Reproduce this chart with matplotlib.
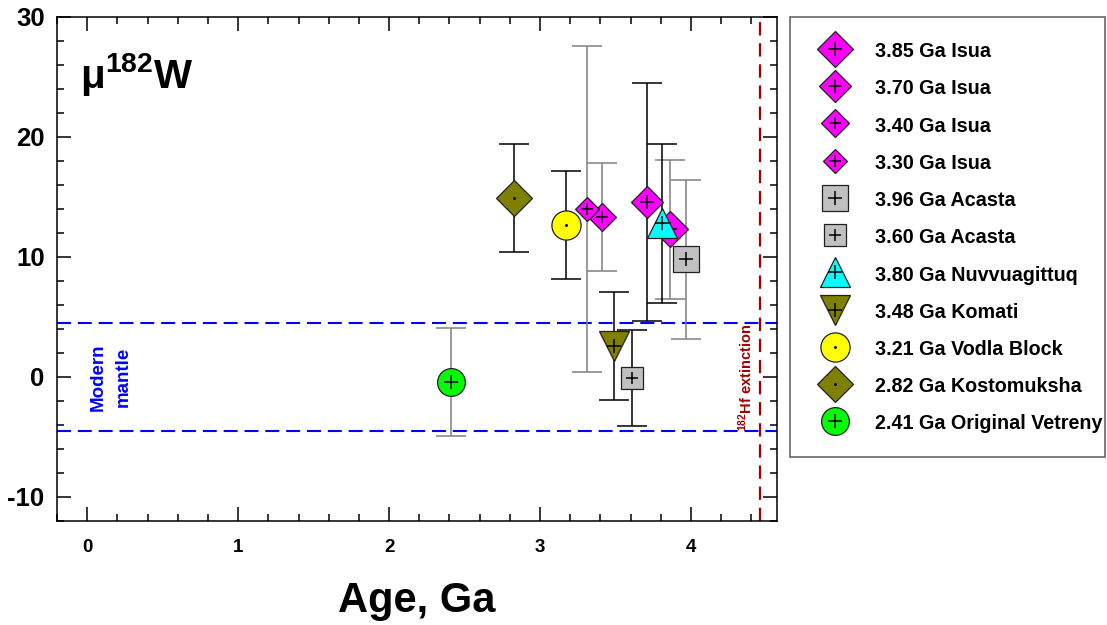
import matplotlib
matplotlib.use("Agg")
import matplotlib.pyplot as plt
from matplotlib.ticker import MultipleLocator

plt.rcParams['font.family'] = ['Liberation Sans', 'DejaVu Sans']
plt.rcParams['font.weight'] = 'bold'
plt.rcParams['axes.labelweight'] = 'bold'
plt.rcParams['axes.unicode_minus'] = False
plt.rcParams['mathtext.fontset'] = 'custom'
plt.rcParams['mathtext.rm'] = 'Liberation Sans:bold'
plt.rcParams['mathtext.bf'] = 'Liberation Sans:bold'
plt.rcParams['mathtext.default'] = 'rm'

# samples, in legend order
labels = ["3.85 Ga Isua", "3.70 Ga Isua", "3.40 Ga Isua", "3.30 Ga Isua",
          "3.96 Ga Acasta", "3.60 Ga Acasta", "3.80 Ga Nuvvuagittuq",
          "3.48 Ga Komati", "3.21 Ga Vodla Block", "2.82 Ga Kostomuksha",
          "2.41 Ga Original Vetreny"]
ages = [3.86, 3.71, 3.41, 3.31, 3.97, 3.61, 3.81, 3.49, 3.17, 2.83, 2.41]
mu182w = [12.3, 14.6, 13.3, 14.0, 9.8, -0.1, 12.8, 2.6, 12.7, 14.9, -0.4]
mu182w_err = [5.8, 9.9, 4.5, 13.6, 6.6, 4.0, 6.6, 4.5, 4.5, 4.5, 4.5]

mantle_band = [-4.5, 4.5]
hf_extinction = 4.46

# marker styles
markers = ['D', 'D', 'D', 'D', 's', 's', '^', 'v', 'o', 'D', 'o']
fills = ['#ff00ff', '#ff00ff', '#ff00ff', '#ff00ff', '#c0c0c0', '#c0c0c0',
         '#00ffff', '#808000', '#ffff00', '#808000', '#00ff00']
sizes = [18.3, 15.8, 14.3, 12.7, 19.4, 15.5, 22, 22, 21, 18.3, 20]
centres = ['+', '+', '+', '+', '+', '+', '+', '+', '.', '.', '+']
centre_sizes = [10, 9.5, 8.5, 8, 10, 8.5, 10.5, 10.5, 2, 2, 10]
bar_colors = ['#808080', 'black', '#808080', '#808080', '#808080', 'black',
              'black', 'black', 'black', 'black', '#808080']

fig = plt.figure(figsize=(11.07, 6.25), dpi=100)
ax = fig.add_axes([57 / 1107, 1 - 521 / 625, 720 / 1107, 504 / 625])

for lvl in mantle_band:
    ax.axhline(lvl, color='#0000ff', lw=1.5, linestyle=(0, (6.7, 3.3)), zorder=1)
ax.axvline(hf_extinction, color='#a00000', lw=1.6, linestyle=(0, (6, 3.5)), zorder=1)

handles = []
for i in range(len(labels)):
    ax.errorbar(ages[i], mu182w[i], yerr=mu182w_err[i], fmt='none',
                ecolor=bar_colors[i], elinewidth=1.1, capsize=10.8,
                capthick=1.1, zorder=2)
for i in range(len(labels)):
    m, = ax.plot(ages[i], mu182w[i], marker=markers[i], ms=sizes[i],
                 mfc=fills[i], mec='#202020', mew=0.9, ls='none',
                 zorder=3 + 2 * i)
    c, = ax.plot(ages[i], mu182w[i], marker=centres[i], ms=centre_sizes[i],
                 color='black', mew=1.1, ls='none', zorder=4 + 2 * i)
    handles.append((m, c))

ax.set_xlim(-0.2, 4.57)
ax.set_ylim(-12, 30)
ax.xaxis.set_major_locator(MultipleLocator(1))
ax.xaxis.set_minor_locator(MultipleLocator(0.2))
ax.yaxis.set_major_locator(MultipleLocator(10))
ax.yaxis.set_minor_locator(MultipleLocator(2))
ax.tick_params(which='both', direction='in', top=True, right=True, width=1.1)
ax.tick_params(which='major', length=10)
ax.tick_params(which='minor', length=5)
ax.tick_params(axis='x', labelsize=13.5, pad=13)
ax.tick_params(axis='y', labelsize=18.5, pad=9)
for s in ax.spines.values():
    s.set_linewidth(1.1)

ax.set_xlabel("Age, Ga", fontsize=30, labelpad=18)
ax.text(-0.05, 24.1, 'μ$^{182}$W', fontsize=29, ha='left', va='baseline')
ax.text(0.155, 0, 'Modern\nmantle', rotation=90, color='#0000ff', fontsize=13.5,
        ha='center', va='center', multialignment='center', linespacing=1.6)
ax.text(4.36, 0, '$^{182}$Hf extinction', rotation=90, color='#a00000',
        fontsize=10.5, ha='center', va='center')

leg = fig.legend(handles, labels, loc='upper left',
                 bbox_to_anchor=(790 / 1107, 1 - 452 / 625, 315 / 1107, 435 / 625),
                 mode='expand', fontsize=14.2, frameon=True, fancybox=False,
                 borderpad=1.2, handlelength=2.2, handletextpad=0.9,
                 handleheight=1.15, labelspacing=0.85, borderaxespad=0)
leg.get_frame().set_edgecolor('#303030')
leg.get_frame().set_linewidth(1.1)

fig.savefig('out.png', dpi=100)
